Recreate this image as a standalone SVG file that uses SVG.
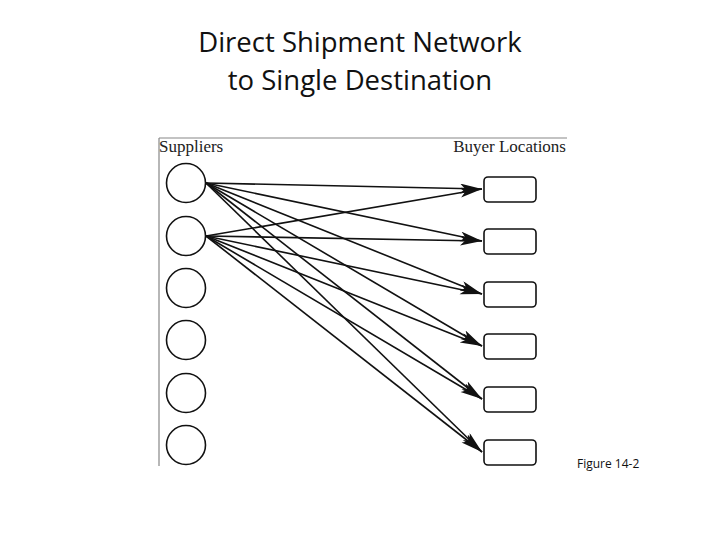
<svg xmlns="http://www.w3.org/2000/svg" width="720" height="540" viewBox="0 0 720 540">
<style>
.title{font-family:"Open Sans","Liberation Sans",sans-serif;font-size:27.5px;fill:#111;text-anchor:middle}
.lbl{font-family:"Liberation Serif",serif;font-size:17px;fill:#222}
.sup{fill:#fff;stroke:#111;stroke-width:1.6}
.buy{fill:#fff;stroke:#111;stroke-width:1.6}
.arr{stroke:#111;stroke-width:1.6;fill:none;marker-end:url(#ah)}
.frame{stroke:#888;stroke-width:1.2;fill:none}
</style>
<defs>
<marker id="ah" markerUnits="userSpaceOnUse" markerWidth="24" markerHeight="12" refX="22" refY="5" orient="auto">
<path d="M0,0 L22,5 L0,10 L5,5 Z" fill="#111"/>
</marker>
</defs>
<rect width="720" height="540" fill="#fff"/>
<text class="title" x="360" y="52">Direct Shipment Network</text>
<text class="title" x="360" y="90">to Single Destination</text>
<path class="frame" d="M159,138 H567 M159,138 V466"/>
<text class="lbl" x="159" y="152">Suppliers</text>
<text class="lbl" x="566" y="152" text-anchor="end">Buyer Locations</text>
<g id="connectors">
<line class="arr" x1="206" y1="183" x2="482" y2="189"/>
<line class="arr" x1="206" y1="183" x2="482" y2="241"/>
<line class="arr" x1="206" y1="183" x2="482" y2="294"/>
<line class="arr" x1="206" y1="183" x2="482" y2="346"/>
<line class="arr" x1="206" y1="183" x2="482" y2="399"/>
<line class="arr" x1="206" y1="183" x2="482" y2="452"/>
<line class="arr" x1="206" y1="236" x2="482" y2="189"/>
<line class="arr" x1="206" y1="236" x2="482" y2="241"/>
<line class="arr" x1="206" y1="236" x2="482" y2="294"/>
<line class="arr" x1="206" y1="236" x2="482" y2="346"/>
<line class="arr" x1="206" y1="236" x2="482" y2="399"/>
<line class="arr" x1="206" y1="236" x2="482" y2="452"/>
</g>
<g id="supplier1"><circle class="sup" cx="186" cy="183" r="19.5"/></g>
<g id="supplier2"><circle class="sup" cx="186" cy="236" r="19.5"/></g>
<g id="supplier3"><circle class="sup" cx="186" cy="288" r="19.5"/></g>
<g id="supplier4"><circle class="sup" cx="186" cy="340" r="19.5"/></g>
<g id="supplier5"><circle class="sup" cx="186" cy="393" r="19.5"/></g>
<g id="supplier6"><circle class="sup" cx="186" cy="445" r="19.5"/></g>
<g id="buyer1"><rect class="buy" x="484" y="177" width="52" height="25" rx="4"/></g>
<g id="buyer2"><rect class="buy" x="484" y="229" width="52" height="25" rx="4"/></g>
<g id="buyer3"><rect class="buy" x="484" y="282" width="52" height="25" rx="4"/></g>
<g id="buyer4"><rect class="buy" x="484" y="334" width="52" height="25" rx="4"/></g>
<g id="buyer5"><rect class="buy" x="484" y="387" width="52" height="25" rx="4"/></g>
<g id="buyer6"><rect class="buy" x="484" y="440" width="52" height="25" rx="4"/></g>
<text x="577" y="468" font-family="'Open Sans','Liberation Sans',sans-serif" font-size="12" fill="#111">Figure 14-2</text>
</svg>
